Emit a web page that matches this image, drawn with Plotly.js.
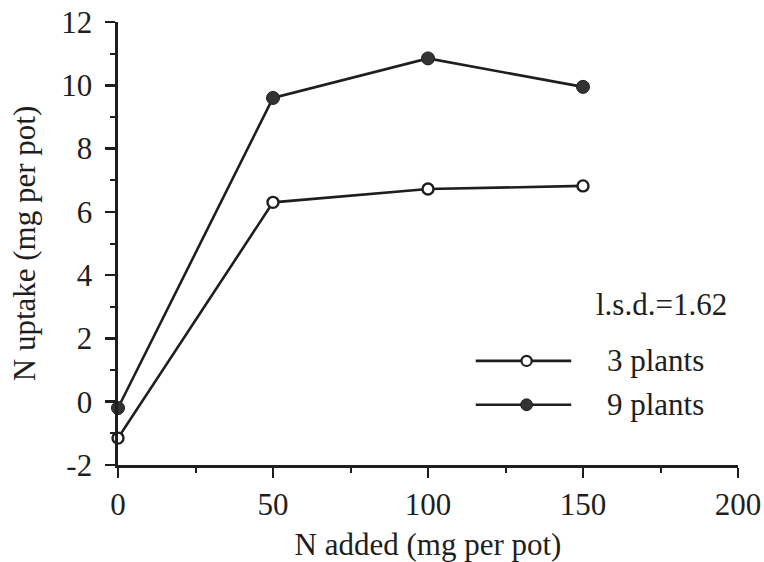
<!DOCTYPE html>
<html>
<head>
<meta charset="utf-8">
<script src="https://cdn.plot.ly/plotly-3.0.1.min.js"></script>
<style>
  html, body { margin: 0; padding: 0; background: #fff; }
  #chart { width: 764px; height: 562px; }
</style>
</head>
<body>
<div id="chart"></div>
<script>
// N uptake response to added N, for two plant densities
const nAdded = [0, 50, 100, 150];
const uptake3 = [-1.15, 6.3, 6.72, 6.82];
const uptake9 = [-0.2, 9.6, 10.85, 9.95];
const seriesNames = ['3 plants', '9 plants'];
const lsdText = 'l.s.d.=1.62';
const xTickVals = [0, 50, 100, 150, 200];
const xTickText = ['0', '50', '100', '150', '200'];
const yTickVals = [-2, 0, 2, 4, 6, 8, 10, 12];
const yTickText = ['-2', '0', '2', '4', '6', '8', '10', '12'];

const ink = '#1e1e1e';
const serif = "'Liberation Serif', 'DejaVu Serif', 'Noto Serif', serif";
const fs = 31;

const traces = [
  {
    x: nAdded, y: uptake3, name: seriesNames[0], type: 'scatter', mode: 'lines+markers',
    line: { color: ink, width: 2.6 },
    marker: { symbol: 'circle', size: 11, color: '#ffffff', line: { color: ink, width: 2.4 } },
    cliponaxis: false, showlegend: false
  },
  {
    x: nAdded, y: uptake9, name: seriesNames[1], type: 'scatter', mode: 'lines+markers',
    line: { color: ink, width: 2.6 },
    marker: { symbol: 'circle', size: 13, color: '#333333', line: { color: ink, width: 1 } },
    cliponaxis: false, showlegend: false
  }
];

// Key: line sample with centred marker, then label
const keyRows = [0.235, 0.136];
const keyX0 = 0.577, keyX1 = 0.731, keyMid = 0.659;
const shapes = [];
const annotations = [];
keyRows.forEach((yy, i) => {
  shapes.push({ type: 'line', xref: 'paper', yref: 'paper', x0: keyX0, x1: keyX1, y0: yy, y1: yy,
                line: { color: ink, width: 2.6 } });
  const r = i === 0 ? 0.0082 : 0.0095, ry = r * 620 / 443;
  shapes.push({ type: 'circle', xref: 'paper', yref: 'paper',
                x0: keyMid - r, x1: keyMid + r, y0: yy - ry, y1: yy + ry,
                fillcolor: i === 0 ? '#ffffff' : '#333333',
                line: { color: ink, width: i === 0 ? 2.2 : 1 } });
  annotations.push({ xref: 'paper', yref: 'paper', x: 0.785, y: yy, xanchor: 'left', yanchor: 'middle',
                     text: seriesNames[i], showarrow: false, font: { family: serif, size: fs, color: ink } });
});
annotations.push({ xref: 'paper', yref: 'paper', x: 0.767, y: 0.362, xanchor: 'left', yanchor: 'middle',
                   text: lsdText, showarrow: false, font: { family: serif, size: fs, color: ink } });

const layout = {
  width: 764, height: 562,
  margin: { l: 118, r: 26, t: 22, b: 97 },
  paper_bgcolor: '#ffffff', plot_bgcolor: '#ffffff',
  font: { family: serif, size: fs, color: ink },
  xaxis: {
    range: [0, 200], tickmode: 'array', tickvals: xTickVals, ticktext: xTickText,
    showgrid: false, zeroline: false,
    showline: true, linecolor: ink, linewidth: 2.6,
    ticks: 'outside', ticklen: 10, tickwidth: 2.6, tickcolor: ink,
    minor: { dtick: 25, tick0: 0, ticks: 'outside', ticklen: 5, tickwidth: 2, tickcolor: ink, showgrid: false },
    tickfont: { family: serif, size: fs, color: ink },
    title: { text: 'N added (mg per pot)', font: { family: serif, size: fs, color: ink }, standoff: 17 }
  },
  yaxis: {
    range: [-2, 12], tickmode: 'array', tickvals: yTickVals, ticktext: yTickText,
    showgrid: false, zeroline: false,
    showline: true, linecolor: ink, linewidth: 2.6,
    ticks: 'outside', ticklen: 10, tickwidth: 2.6, tickcolor: ink,
    ticklabelstandoff: 7,
    minor: { dtick: 1, tick0: 0, ticks: 'outside', ticklen: 5, tickwidth: 2, tickcolor: ink, showgrid: false },
    tickfont: { family: serif, size: fs, color: ink },
    title: { text: 'N uptake (mg per pot)', font: { family: serif, size: fs, color: ink }, standoff: 17 }
  },
  shapes: shapes,
  annotations: annotations,
  showlegend: false
};

Plotly.newPlot('chart', traces, layout, { displayModeBar: false, staticPlot: true });
</script>
</body>
</html>
